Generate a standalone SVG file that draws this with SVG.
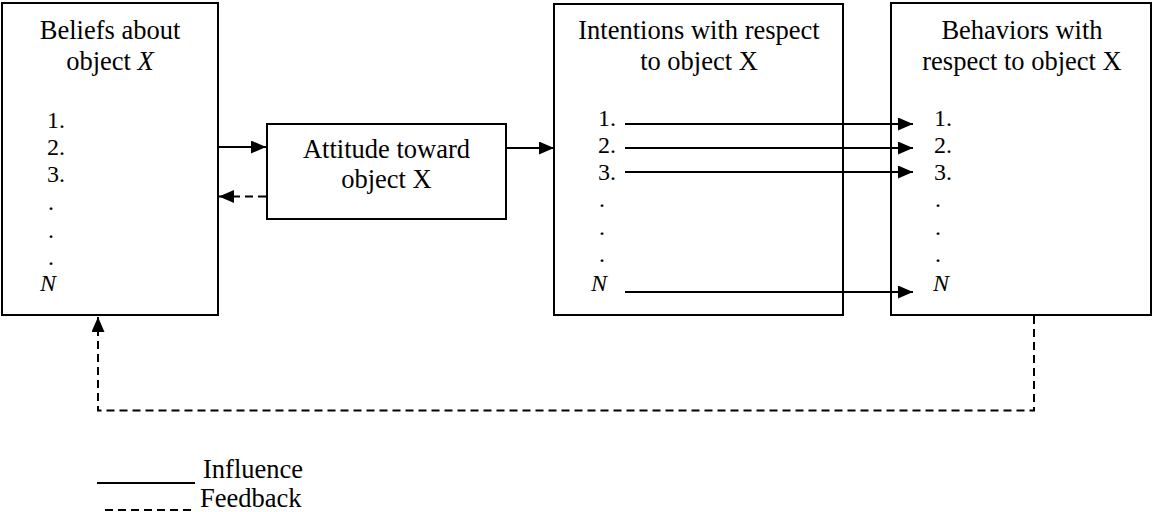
<svg xmlns="http://www.w3.org/2000/svg" width="1155" height="512" viewBox="0 0 1155 512">
<style>
.box{fill:#fff;stroke:#000;stroke-width:2}
.t{font-family:"Liberation Serif","Times New Roman",serif;font-size:26.5px;fill:#000}
.l{font-family:"Liberation Serif","Times New Roman",serif;font-size:24px;fill:#000}
.i{font-style:italic}
.solid{fill:none;stroke:#000;stroke-width:2}
.dash{fill:none;stroke:#000;stroke-width:2;stroke-dasharray:8 5}
</style>
<defs>
<marker id="ah" markerUnits="userSpaceOnUse" markerWidth="15" markerHeight="13" refX="15" refY="6.5" orient="auto">
<path d="M0,0 L15,6.5 L0,13 z" fill="#000" stroke="none"/>
</marker>
</defs>
<rect width="1155" height="512" fill="#fff"/>
<g id="beliefs">
<rect class="box" x="2" y="3" width="216" height="312"/>
<text class="t" x="110" y="39" text-anchor="middle">Beliefs about</text>
<text class="t" x="110" y="70" text-anchor="middle">object <tspan class="i">X</tspan></text>
<text class="l" x="47" y="128">1.</text>
<text class="l" x="47" y="155">2.</text>
<text class="l" x="47" y="182">3.</text>
<text class="l" x="48" y="210">.</text>
<text class="l" x="48" y="238">.</text>
<text class="l" x="48" y="265">.</text>
<text class="l i" x="40" y="291">N</text>
</g>
<g id="attitude">
<rect class="box" x="267" y="124" width="239" height="95"/>
<text class="t" x="386.5" y="158" text-anchor="middle">Attitude toward</text>
<text class="t" x="386.5" y="188" text-anchor="middle">object X</text>
</g>
<g id="intentions">
<rect class="box" x="554" y="4" width="289" height="311"/>
<text class="t" x="699" y="39" text-anchor="middle">Intentions with respect</text>
<text class="t" x="699" y="70" text-anchor="middle">to object X</text>
<text class="l" x="598" y="126">1.</text>
<text class="l" x="598" y="153">2.</text>
<text class="l" x="598" y="180">3.</text>
<text class="l" x="599" y="207">.</text>
<text class="l" x="599" y="235">.</text>
<text class="l" x="599" y="262">.</text>
<text class="l i" x="591" y="291">N</text>
</g>
<g id="behaviors">
<rect class="box" x="891" y="3" width="260" height="312"/>
<text class="t" x="1022" y="39" text-anchor="middle">Behaviors with</text>
<text class="t" x="1022" y="70" text-anchor="middle">respect to object X</text>
<text class="l" x="934" y="126">1.</text>
<text class="l" x="934" y="153">2.</text>
<text class="l" x="934" y="180">3.</text>
<text class="l" x="935" y="207">.</text>
<text class="l" x="935" y="235">.</text>
<text class="l" x="935" y="262">.</text>
<text class="l i" x="933" y="291">N</text>
</g>
<g id="connectors">
<line class="solid" x1="218" y1="147" x2="266" y2="147" marker-end="url(#ah)"/>
<line class="dash" x1="266" y1="196.5" x2="219" y2="196.5" marker-end="url(#ah)"/>
<line class="solid" x1="506" y1="148" x2="554" y2="148" marker-end="url(#ah)"/>
<line class="solid" x1="625" y1="124" x2="913" y2="124" marker-end="url(#ah)"/>
<line class="solid" x1="625" y1="148" x2="913" y2="148" marker-end="url(#ah)"/>
<line class="solid" x1="625" y1="172" x2="913" y2="172" marker-end="url(#ah)"/>
<line class="solid" x1="625" y1="292" x2="913" y2="292" marker-end="url(#ah)"/>
<path class="dash" d="M1034,316 V410.5 H98 V317" marker-end="url(#ah)"/>
</g>
<g id="legend">
<line class="solid" x1="97" y1="483" x2="195" y2="483"/>
<text class="t" x="203" y="478">Influence</text>
<line class="dash" x1="105" y1="510" x2="195" y2="510"/>
<text class="t" x="200" y="507">Feedback</text>
</g>
</svg>
